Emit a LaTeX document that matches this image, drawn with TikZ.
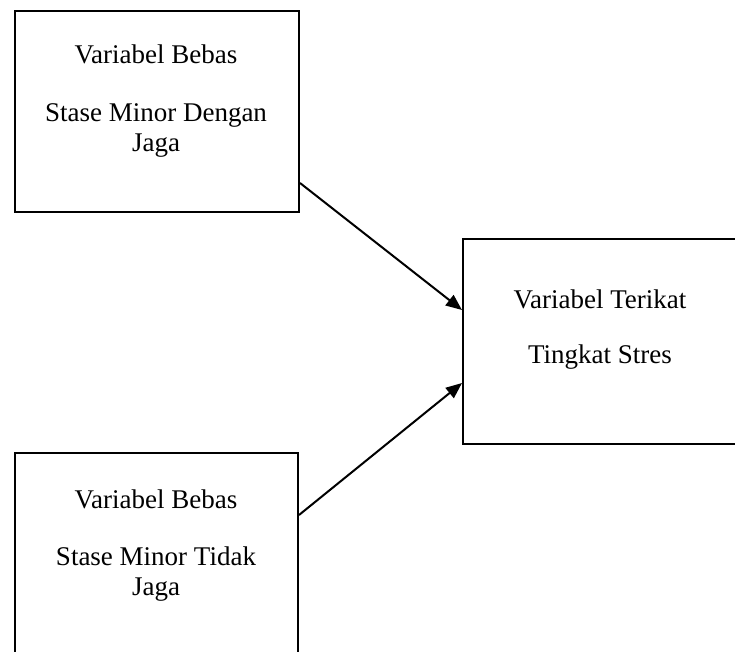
\documentclass[tikz,border=0pt]{standalone}
\usepackage{fontspec}
\setmainfont{Liberation Serif}
\usetikzlibrary{arrows.meta}
\begin{document}
\begin{tikzpicture}[x=1pt,y=-1pt,
	box/.style={draw,line width=2pt,inner sep=0pt,anchor=north west},
	txt/.style={font=\fontsize{27}{31}\selectfont,anchor=base,inner sep=0pt},
	arr/.style={line width=2pt,-{Triangle[length=16pt,width=13pt]}}]
			\clip (0,0) rectangle (735,652);
			% kotak
			\node[box,minimum width=284pt,minimum height=201pt] (dengan) at (14,10) {};
			\node[box,minimum width=276pt,minimum height=205pt] (terikat) at (462,238) {};
			\node[box,minimum width=283pt,minimum height=201pt] (tidak) at (14,452) {};
			% teks
			\node[txt] (d1) at (156,64) {Variabel Bebas};
			\node[txt] (d2) at (156,122) {Stase Minor Dengan};
			\node[txt] (d3) at (156,152) {Jaga};
			\node[txt] (t1) at (600,308) {Variabel Terikat};
			\node[txt] (t2) at (600,363) {Tingkat Stres};
			\node[txt] (k1) at (156,508) {Variabel Bebas};
			\node[txt] (k2) at (156,565) {Stase Minor Tidak};
			\node[txt] (k3) at (156,595) {Jaga};
			% panah
			\draw[arr] ([yshift=30pt]dengan.south east) -- ([yshift=-72pt]terikat.north west);
			\draw[arr] ([yshift=-63pt]tidak.north east) -- ([yshift=62pt]terikat.south west);
		\end{tikzpicture}
\end{document}
